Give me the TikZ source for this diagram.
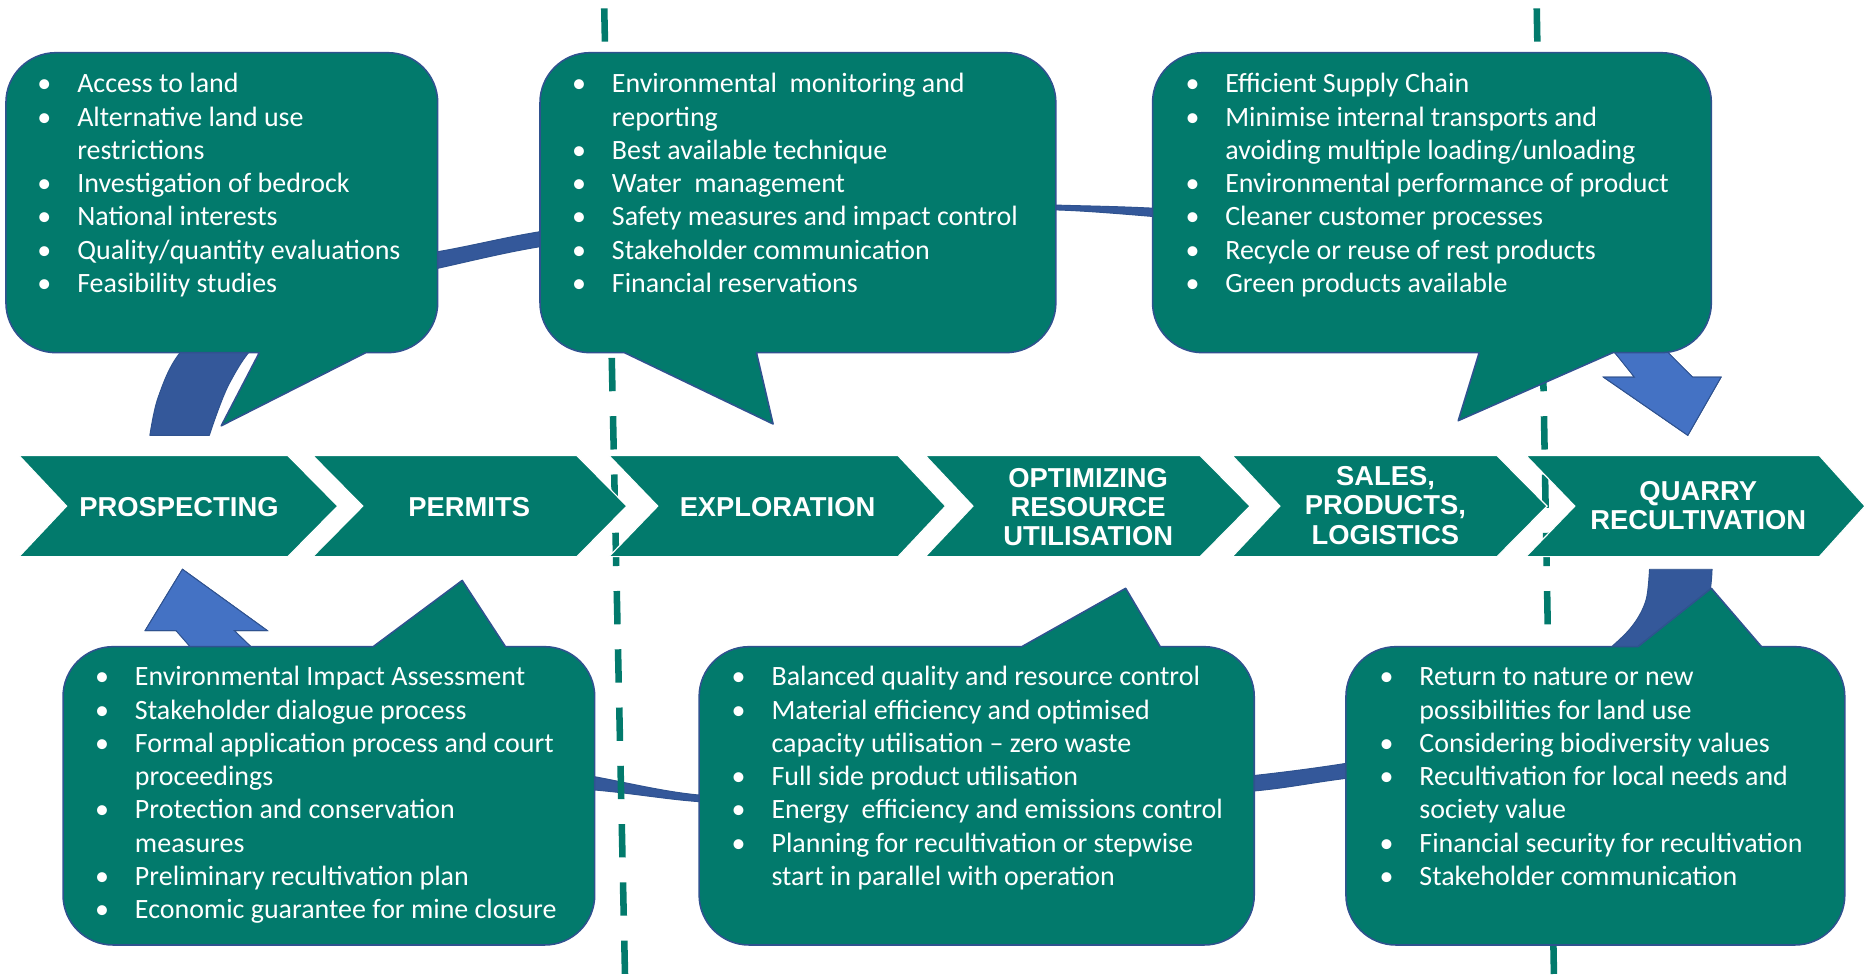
\documentclass[tikz,border=0pt]{standalone}
\usepackage{fontspec}
\setmainfont{Carlito}
\newfontfamily\chevfont{Liberation Sans}

\definecolor{tealfill}{RGB}{2,122,108}
\definecolor{bubedge}{RGB}{47,82,143}
\definecolor{ringdark}{RGB}{52,88,154}
\definecolor{ringlight}{RGB}{68,114,196}
\definecolor{ringedge}{RGB}{47,82,143}

\tikzset{
 bubble/.style={fill=tealfill, draw=bubedge, line width=1.3pt, line join=round},
 chevron/.style={fill=tealfill, draw=white, line width=1pt},
 chevtext/.style={text=white, align=center, inner sep=0pt, font=\chevfont\bfseries\fontsize{23}{24.5}\selectfont},
 bultext/.style={text=white, inner sep=0pt, anchor=base west, font=\fontsize{23.5}{28}\selectfont},
 dashline/.style={draw=tealfill, line width=5.5pt, dash pattern=on 28pt off 21pt},
 ringA/.style={fill=ringdark, draw=ringedge, line width=0.8pt, line join=round},
 ringB/.style={fill=ringlight, draw=ringedge, line width=0.8pt, line join=miter},
}

\newcommand\bulx{\makebox[33.5pt][l]{\textbullet}}
\newcommand\indx{\hspace*{33.5pt}}
% x1 y1 x2 y2 tailright tipx tipy tailleft
\newcommand\calloutdown[8]{%
 \filldraw[bubble] (#1+42,#2) -- (#3-42,#2) arc[start angle=270,end angle=360,radius=42]
  -- (#3,#4-42) arc[start angle=0,end angle=90,radius=42]
  -- (#5,#4) -- (#6,#7) -- (#8,#4)
  -- (#1+42,#4) arc[start angle=90,end angle=180,radius=42]
  -- (#1,#2+42) arc[start angle=180,end angle=270,radius=42] -- cycle;}
% x1 y1 x2 y2 tailleft tipx tipy tailright
\newcommand\calloutup[8]{%
 \filldraw[bubble] (#1+42,#2) -- (#5,#2) -- (#6,#7) -- (#8,#2)
  -- (#3-42,#2) arc[start angle=270,end angle=360,radius=42]
  -- (#3,#4-42) arc[start angle=0,end angle=90,radius=42]
  -- (#1+42,#4) arc[start angle=90,end angle=180,radius=42]
  -- (#1,#2+42) arc[start angle=180,end angle=270,radius=42] -- cycle;}

\begin{document}
\begin{tikzpicture}[x=1pt,y=-1pt]
\fill[white] (0,0) rectangle (1568,821);
\useasboundingbox (0,0) rectangle (1568,821);

% ---- ring arrow A (top, left to right)
\filldraw[ringA] plot[smooth,tension=0.55] coordinates {(126,366) (133,334) (151,297) (195,254) (270,226) (368,211.6) (454,194.8) (560,181) (700,172) (820,170) (888,172.4) (969,175) (1100,183) (1220,200) (1320,228) (1375,262) (1403,297) (1423,317)}
 -- (1447,317) -- (1419,366) -- (1348,317) -- (1374,317)
 -- plot[smooth,tension=0.55] coordinates {(1374,317) (1358,297) (1325,267) (1250,232) (1120,196) (969,182) (888,176.5) (820,177) (700,181) (560,194) (454,207.4) (368,225.6) (280,246) (220,285) (193,322) (176,366)} -- cycle;
\filldraw[ringB] (1340,280) -- (1392,280) -- (1403,297) -- (1423,317) -- (1447,317) -- (1419,366) -- (1348,317) -- (1374,317) -- (1358,297) -- cycle;

% ---- ring arrow B (bottom, right to left)
\filldraw[ringA] plot[smooth,tension=0.55] coordinates {(1386.8,478.6) (1384,504) (1374,524) (1355,543.7) (1300,590) (1220,626) (1131.6,641.8) (1054.5,652) (950,662) (800,667) (680,669) (587.8,668.4) (500,653) (400,633) (300,603) (240,570) (211,543.7) (197,530.2)}
 -- (224.8,530.2) -- (153.4,478.6) -- (122,530.2) -- (148,530.2)
 -- plot[smooth,tension=0.55] coordinates {(148,530.2) (160,543.7) (185,580) (250,625) (380,656) (500,664.2) (587.8,674) (680,677) (800,677) (950,671) (1054.5,665) (1131.6,654.4) (1250,640) (1360,595) (1420,540) (1436,505) (1439.4,478.6)} -- cycle;
\filldraw[ringB] (170.5,556) -- (148,530.2) -- (122,530.2) -- (153.4,478.6) -- (224.8,530.2) -- (197,530.2) -- (223.5,556) -- cycle;

% ---- dashed phase lines
\draw[dashline] (508,7) -- (525.5,821);
\draw[dashline] (1292,7) -- (1306.5,821);

% ---- chevrons
\filldraw[chevron] (16,383) -- (242,383) -- (284,425.5) -- (242,468) -- (16,468) -- (56,425.5) -- cycle;
\filldraw[chevron] (263,383) -- (485,383) -- (527,425.5) -- (485,468) -- (263,468) -- (305,425.5) -- cycle;
\filldraw[chevron] (512,383) -- (755,383) -- (795,425.5) -- (755,468) -- (512,468) -- (553,425.5) -- cycle;
\filldraw[chevron] (778,383) -- (1009,383) -- (1051,425.5) -- (1009,468) -- (778,468) -- (818,425.5) -- cycle;
\filldraw[chevron] (1036,383) -- (1258.6,383) -- (1300.7,425.5) -- (1258.6,468) -- (1036,468) -- (1076,425.5) -- cycle;
\filldraw[chevron] (1283,383) -- (1529.6,383) -- (1568,425.5) -- (1529.6,468) -- (1283,468) -- (1324,425.5) -- cycle;

\node[chevtext] (c1) at (150.5,426) {PROSPECTING};
\node[chevtext] (c2) at (394.5,426) {PERMITS};
\node[chevtext] (c3) at (653.7,426) {EXPLORATION};
\node[chevtext] (c4) at (914.9,426.5) {OPTIMIZING\\RESOURCE\\UTILISATION};
\node[chevtext] (c5) at (1164.8,425) {SALES,\\PRODUCTS,\\LOGISTICS};
\node[chevtext] (c6) at (1427.8,425) {QUARRY\\RECULTIVATION};

% ---- callouts
\calloutdown{5}{44.3}{368}{296.5}{307.5}{186}{358}{218}
\calloutdown{454}{44.3}{887.7}{296.5}{636}{650}{356.5}{525}
\calloutdown{969}{44.3}{1438.8}{296.5}{1356}{1226}{353.7}{1243.6}
\calloutup{53}{543.7}{500}{794.5}{313.7}{388.6}{488}{425}
\calloutup{587.8}{543.7}{1054.5}{794.5}{859}{946.4}{494.6}{975.5}
\calloutup{1131.6}{543.7}{1551}{794.5}{1377}{1438.8}{494.6}{1481}

% ---- callout texts
\node[bultext] (t1) at (31.3,78) {\begin{tabular}[t]{@{}l@{}}
\bulx Access to land\\
\bulx Alternative land use\\
\indx restrictions\\
\bulx Investigation of bedrock\\
\bulx National interests\\
\bulx Quality/quantity evaluations\\
\bulx Feasibility studies
\end{tabular}};

\node[bultext] (t2) at (480.8,78) {\begin{tabular}[t]{@{}l@{}}
\bulx Environmental~ monitoring and\\
\indx reporting\\
\bulx Best available technique\\
\bulx Water~ management\\
\bulx Safety measures and impact control\\
\bulx Stakeholder communication\\
\bulx Financial reservations
\end{tabular}};

\node[bultext] (t3) at (996.5,78) {\begin{tabular}[t]{@{}l@{}}
\bulx Efficient Supply Chain\\
\bulx Minimise internal transports and\\
\indx avoiding multiple loading/unloading\\
\bulx Environmental performance of product\\
\bulx Cleaner customer processes\\
\bulx Recycle or reuse of rest products\\
\bulx Green products available
\end{tabular}};

\node[bultext] (t4) at (79.8,576.5) {\begin{tabular}[t]{@{}l@{}}
\bulx Environmental Impact Assessment\\
\bulx Stakeholder dialogue process\\
\bulx Formal application process and court\\
\indx proceedings\\
\bulx Protection and conservation\\
\indx measures\\
\bulx Preliminary recultivation plan\\
\bulx Economic guarantee for mine closure
\end{tabular}};

\node[bultext] (t5) at (615,576.5) {\begin{tabular}[t]{@{}l@{}}
\bulx Balanced quality and resource control\\
\bulx Material efficiency and optimised\\
\indx capacity utilisation -- zero waste\\
\bulx Full side product utilisation\\
\bulx Energy~ efficiency and emissions control\\
\bulx Planning for recultivation or stepwise\\
\indx start in parallel with operation
\end{tabular}};

\node[bultext] (t6) at (1159.7,576.5) {\begin{tabular}[t]{@{}l@{}}
\bulx Return to nature or new\\
\indx possibilities for land use\\
\bulx Considering biodiversity values\\
\bulx Recultivation for local needs and\\
\indx society value\\
\bulx Financial security for recultivation\\
\bulx Stakeholder communication
\end{tabular}};

\end{tikzpicture}
\end{document}
